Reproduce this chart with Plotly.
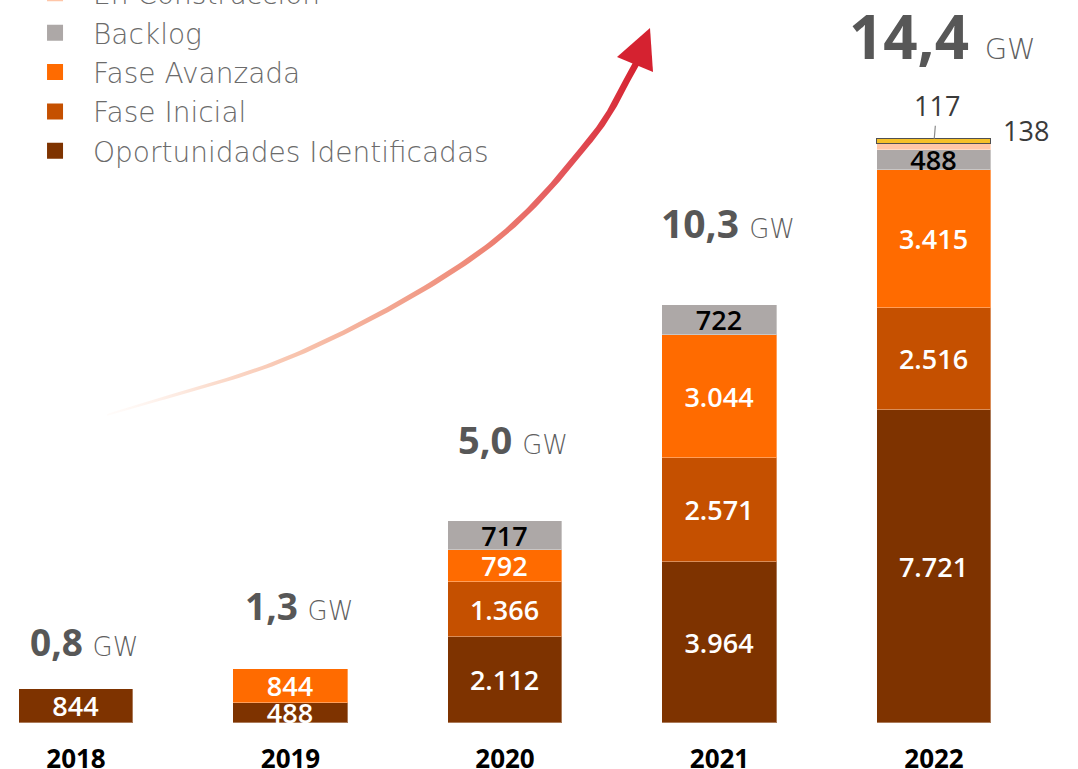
import numpy as np
import plotly.graph_objects as go

# ---------------- data ----------------
years = ["2018", "2019", "2020", "2021", "2022"]
oportunidades = [844, 488, 2112, 3964, 7721]
fase_inicial = [0, 0, 1366, 2571, 2516]
fase_avanzada = [0, 844, 792, 3044, 3415]
backlog = [0, 0, 717, 722, 488]
en_construccion = [0, 0, 0, 0, 138]
en_operacion = [0, 0, 0, 0, 117]

series_names = ["Oportunidades Identificadas", "Fase Inicial", "Fase Avanzada",
                "Backlog", "En Construcción", "En Operación"]
series_values = [oportunidades, fase_inicial, fase_avanzada, backlog,
                 en_construccion, en_operacion]

# ---------------- style ----------------
colors = {"Oportunidades Identificadas": "#7E3300", "Fase Inicial": "#C55000",
          "Fase Avanzada": "#FF6B00", "Backlog": "#ADA8A7",
          "En Construcción": "#FFC6A8", "En Operación": "#F5C02A"}
text_colors = {"Oportunidades Identificadas": "white", "Fase Inicial": "white",
               "Fase Avanzada": "white", "Backlog": "black"}
FONT = "Open Sans"
total_offsets_px = [47, 64, 82, 83, 103]
total_num_size = [37, 37, 38, 39, 60]
total_gw_size = [26, 26, 26, 26, 29]

def fmt_int(v):
    return f"{v:,}".replace(",", ".")

totals = [sum(s[i] for s in series_values) for i in range(len(years))]

fig = go.Figure()

for name, vals in zip(series_names, series_values):
    is_small = name in ("En Construcción", "En Operación")
    fig.add_trace(go.Bar(
        x=years, y=[v if v else None for v in vals], name=name, showlegend=False,
        width=0.536,
        marker=dict(color=colors[name],
                    line=dict(color="#505050" if name == "En Operación" else "rgba(255,255,255,0.35)",
                              width=1.5 if name == "En Operación" else 1)),
        text=None if is_small else [fmt_int(v) if v else "" for v in vals],
        textposition="inside", insidetextanchor="middle",
        constraintext="none", cliponaxis=True,
        textfont=dict(family=FONT, size=27, weight=600,
                      color=text_colors.get(name, "white")),
        hoverinfo="x+y+name",
    ))

# legend entries (square markers)
legend_order = ["En Construcción", "Backlog", "Fase Avanzada", "Fase Inicial",
                "Oportunidades Identificadas"]
for name in legend_order:
    fig.add_trace(go.Scatter(x=[None], y=[None], mode="markers", name=name,
                             marker=dict(symbol="square", size=16, color=colors[name]),
                             showlegend=True, hoverinfo="skip"))

# ---------------- gradient arrow (pixel space overlay axes) ----------------
arrow_path = [(107, 415), (300, 353), (483, 250), (590, 140), (637, 62)]
arrow_head = [(617, 57), (650, 28), (653, 72)]

def catmull(pts, n=40):
    pts = np.array(pts, float)
    P = np.vstack([2 * pts[0] - pts[1], pts, 2 * pts[-1] - pts[-2]])
    out = []
    for i in range(1, len(P) - 2):
        p0, p1, p2, p3 = P[i - 1], P[i], P[i + 1], P[i + 2]
        for t in np.linspace(0, 1, n, endpoint=False):
            t2, t3 = t * t, t * t * t
            out.append(0.5 * ((2 * p1) + (-p0 + p2) * t + (2 * p0 - 5 * p1 + 4 * p2 - p3) * t2
                              + (-p0 + 3 * p1 - 3 * p2 + p3) * t3))
    out.append(pts[-1])
    return np.array(out)

c = catmull(arrow_path)
d = np.gradient(c, axis=0)
d /= np.linalg.norm(d, axis=1)[:, None]
nrm = np.stack([-d[:, 1], d[:, 0]], axis=1)
seg = np.r_[0, np.cumsum(np.linalg.norm(np.diff(c, axis=0), axis=1))]
s = seg / seg[-1]
w = (1.5 + 5.0 * np.sqrt(s)) / 2
left = c + nrm * w[:, None]
right = c - nrm * w[:, None]
poly = np.vstack([left, right[::-1], left[:1]])

fig.add_trace(go.Scatter(
    x=poly[:, 0], y=poly[:, 1], xaxis="x2", yaxis="y2", mode="lines",
    fill="toself", line=dict(width=0, color="rgba(0,0,0,0)"),
    fillgradient=dict(type="horizontal",
                      colorscale=[[0, "rgba(255,245,240,0.3)"], [0.2, "#FBDCCD"],
                                  [0.36, "#F8C3AD"], [0.55, "#F2A38E"],
                                  [0.71, "#EE8575"], [0.86, "#E3555A"],
                                  [1, "#D5202F"]]),
    showlegend=False, hoverinfo="skip"))
hx = [p[0] for p in arrow_head] + [arrow_head[0][0]]
hy = [p[1] for p in arrow_head] + [arrow_head[0][1]]
fig.add_trace(go.Scatter(x=hx, y=hy, xaxis="x2", yaxis="y2", mode="lines",
                         fill="toself", fillcolor="#D52230",
                         line=dict(width=0, color="#D52230"),
                         showlegend=False, hoverinfo="skip"))

# ---------------- annotations ----------------
for i, (yr, tot) in enumerate(zip(years, totals)):
    num = f"{tot / 1000:.1f}".replace(".", ",")
    fig.add_annotation(
        x=i, y=tot, xref="x", yref="y", showarrow=False,
        text=(f"<b>{num}</b> <span style=\"font-size:{total_gw_size[i]}px;"
              f"font-family:DejaVu Sans;font-weight:200;color:#5f5f5f\">GW</span>"),
        font=dict(family=FONT, size=total_num_size[i], color="#575757"),
        xanchor="center", yanchor="middle", xshift=8, yshift=total_offsets_px[i])

stack_below = totals[-1] - en_operacion[-1] - en_construccion[-1]
fig.add_annotation(x=4, y=stack_below + en_construccion[-1] / 2, xref="x", yref="y",
                   text=str(en_construccion[-1]), showarrow=False, xanchor="left",
                   xshift=67, yshift=16,
                   font=dict(family=FONT, size=27, color="#3a3a3a"))
fig.add_annotation(x=4, y=totals[-1] - en_operacion[-1] / 2, xref="x", yref="y",
                   text=str(en_operacion[-1]), showarrow=True, arrowhead=0,
                   arrowwidth=1.2, arrowcolor="#8a8a8a", ax=3, ay=-36, standoff=3,
                   font=dict(family=FONT, size=27, color="#3a3a3a"))

fig.update_layout(
    width=1078, height=769,
    margin=dict(l=0, r=0, t=0, b=46, autoexpand=False),
    paper_bgcolor="white", plot_bgcolor="white",
    barmode="stack", bargap=0,
    legend=dict(x=0.0158, y=1.0435, xanchor="left", yanchor="top",
                traceorder="normal", bgcolor="rgba(0,0,0,0)",
                font=dict(family="DejaVu Sans", size=28, color="#6b6b6b", weight=200),
                itemwidth=66),
    xaxis=dict(type="category", range=[-0.3543, 4.6713], showgrid=False,
               zeroline=False, showline=False, ticks="outside", ticklen=13,
               tickcolor="rgba(0,0,0,0)",
               tickfont=dict(family=FONT, size=26, color="black", weight="bold")),
    yaxis=dict(range=[0, 17834], visible=False, showgrid=False, zeroline=False),
    xaxis2=dict(overlaying="x", range=[0, 1078], visible=False),
    yaxis2=dict(overlaying="y", range=[723, 0], visible=False),
)

fig.write_html("out.html", config={"displayModeBar": False},
               post_script="document.body.style.margin='0';")
